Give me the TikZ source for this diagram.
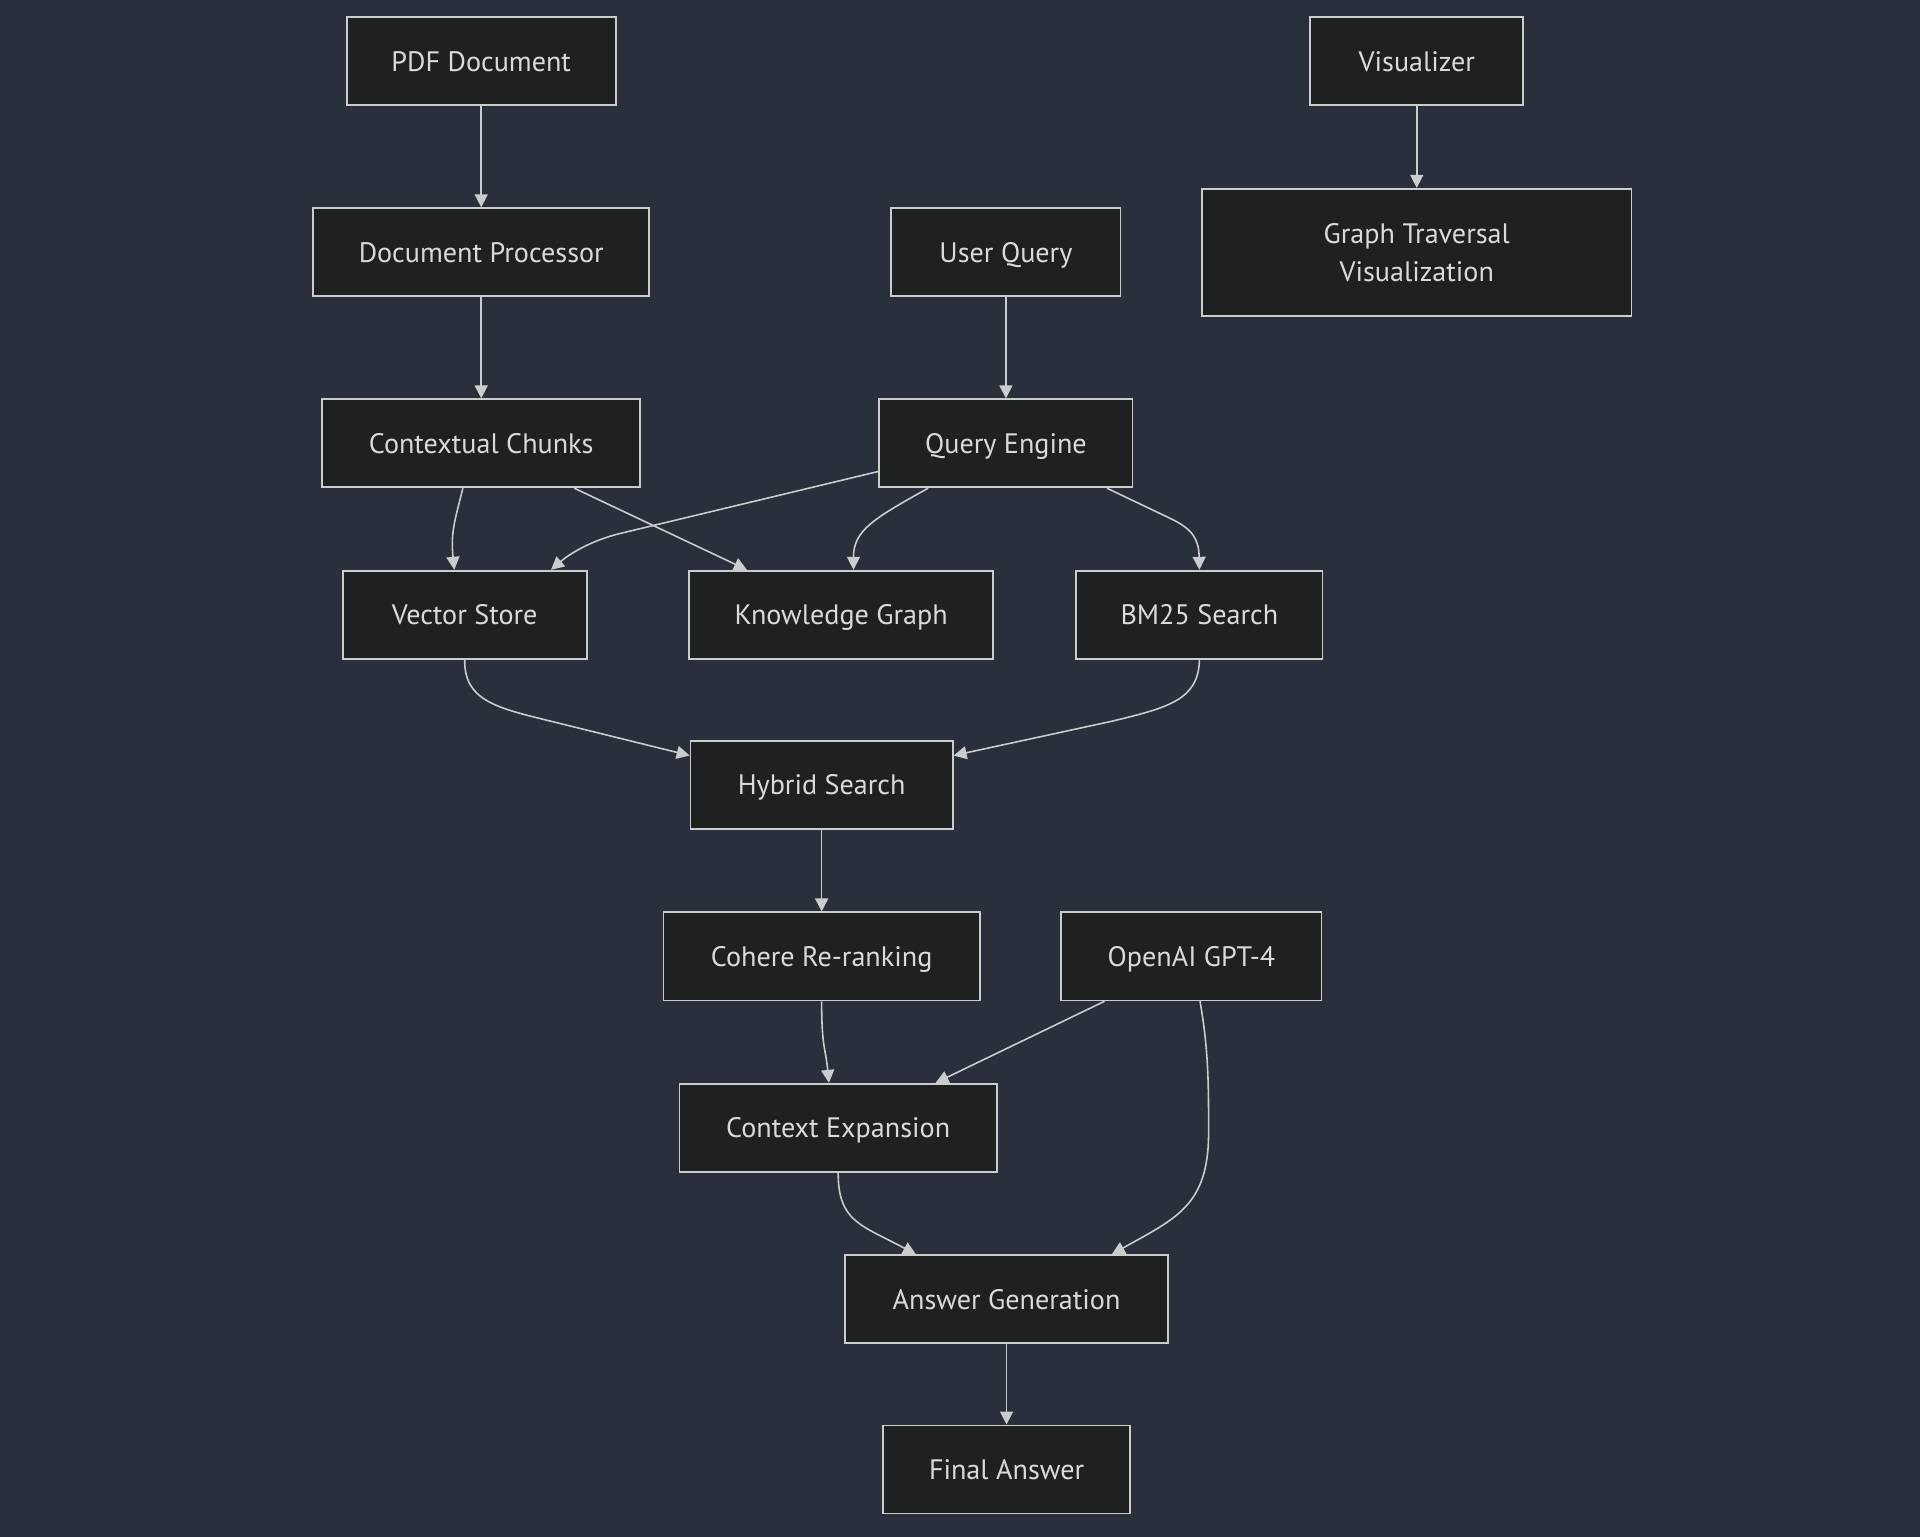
\documentclass[tikz,border=0pt]{standalone}
\usepackage{fontspec}
\setmainfont{PT Sans}
\usetikzlibrary{arrows.meta,calc}
\definecolor{FlowBack}{HTML}{2A2F3C}
\definecolor{FlowBox}{HTML}{1F2020}
\definecolor{FlowLine}{HTML}{CCCCCC}
\definecolor{FlowText}{HTML}{DADADA}
\begin{document}
\begin{tikzpicture}[x=0.012245cm,y=-0.012245cm,
    block/.style={draw=FlowLine,fill=FlowBox,line width=0.5pt,text=FlowText,
      minimum height=0.88cm,minimum width=#1,inner sep=0pt,align=center,
      text height=7.6pt,text depth=2pt,
      font=\fontsize{8}{10.8}\selectfont},
    link/.style={draw=FlowLine,line width=0.45pt,
      -{Triangle[length=0.13cm,width=0.13cm]}}]
        \fill[FlowBack] (0,0) rectangle (1568,1255);

        % ingestion side
        \node[block=2.69cm] (pdf) at (393,50) {PDF Document};
        \node[block=3.36cm] (docproc) at (393,206) {Document Processor};
        \node[block=3.18cm] (chunks) at (393,362) {Contextual Chunks};

        % query side
        \node[block=2.29cm] (query) at (821.5,206) {User Query};
        \node[block=2.53cm] (engine) at (821.5,362) {Query Engine};

        \node[block=2.13cm] (viz) at (1157,50) {Visualizer};
        \node[block=4.29cm,minimum height=1.27cm,text height={},text depth={}]
          (traversal) at (1157,206) {Graph Traversal\\Visualization};

        % retrieval
        \node[block=2.44cm] (vector) at (379.5,502) {Vector Store};
        \node[block=3.04cm] (kgraph) at (687,502) {Knowledge Graph};
        \node[block=2.46cm] (bm25) at (979.5,502) {BM25 Search};
        \node[block=2.62cm] (hybrid) at (671,641) {Hybrid Search};
        \node[block=3.16cm] (rerank) at (671,781) {Cohere Re-ranking};
        \node[block=2.60cm] (gpt) at (973,781) {OpenAI GPT-4};
        \node[block=3.17cm] (expand) at (684.5,921) {Context Expansion};
        \node[block=3.23cm] (answer) at (822,1061) {Answer Generation};
        \node[block=2.47cm] (final) at (822,1200) {Final Answer};

        \draw[link] (pdf) -- (docproc);
        \draw[link] (docproc) -- (chunks);
        \draw[link] (query) -- (engine);
        \draw[link] (viz) -- (traversal);

        \draw[link] ($(chunks.south)+(-15,0)$)
          .. controls +(-7,28) and +(-3,-30) .. ($(vector.north)+(-8.5,0)$);
        \draw[link] ($(chunks.south)+(76,0)$) -- ($(kgraph.north)+(-77,0)$);
        \draw[link] ($(engine.west)+(0,23)$) -- (505,436)
          .. controls (478,443) and (462,455) .. ($(vector.north)+(70.5,0)$);
        \draw[link] ($(engine.south)+(-63.5,0)$)
          .. controls +(-45,25) and +(0,-32) .. ($(kgraph.north)+(10,0)$);
        \draw[link] ($(engine.south)+(82.5,0)$) -- (955,423)
          .. controls (974,432) and (979,440) .. (bm25.north);

        \draw[link] (vector.south) .. controls (379,572) and (405,578) .. (450,589)
          -- ($(hybrid.west)+(0,-24)$);
        \draw[link] (bm25.south) .. controls (979,572) and (953,578) .. (908,589)
          -- ($(hybrid.east)+(0,-24)$);

        \draw[link] (hybrid) -- (rerank);
        \draw[link] (rerank.south)
          .. controls +(0,38) and +(-3,-30) .. ($(expand.north)+(-7.5,0)$);
        \draw[link] ($(gpt.south)+(-71,0)$) -- ($(expand.north)+(79.5,0)$);
        \draw[link] ($(gpt.south)+(7,0)$) .. controls +(7,40) and +(0,-40) .. (987,925)
          .. controls (987,985) and (960,995) .. ($(answer.north)+(86,0)$);
        \draw[link] (expand.south) .. controls +(0,40) and +(-45,-24) ..
          ($(answer.north)+(-74,0)$);
        \draw[link] (answer) -- (final);
      \end{tikzpicture}
\end{document}
